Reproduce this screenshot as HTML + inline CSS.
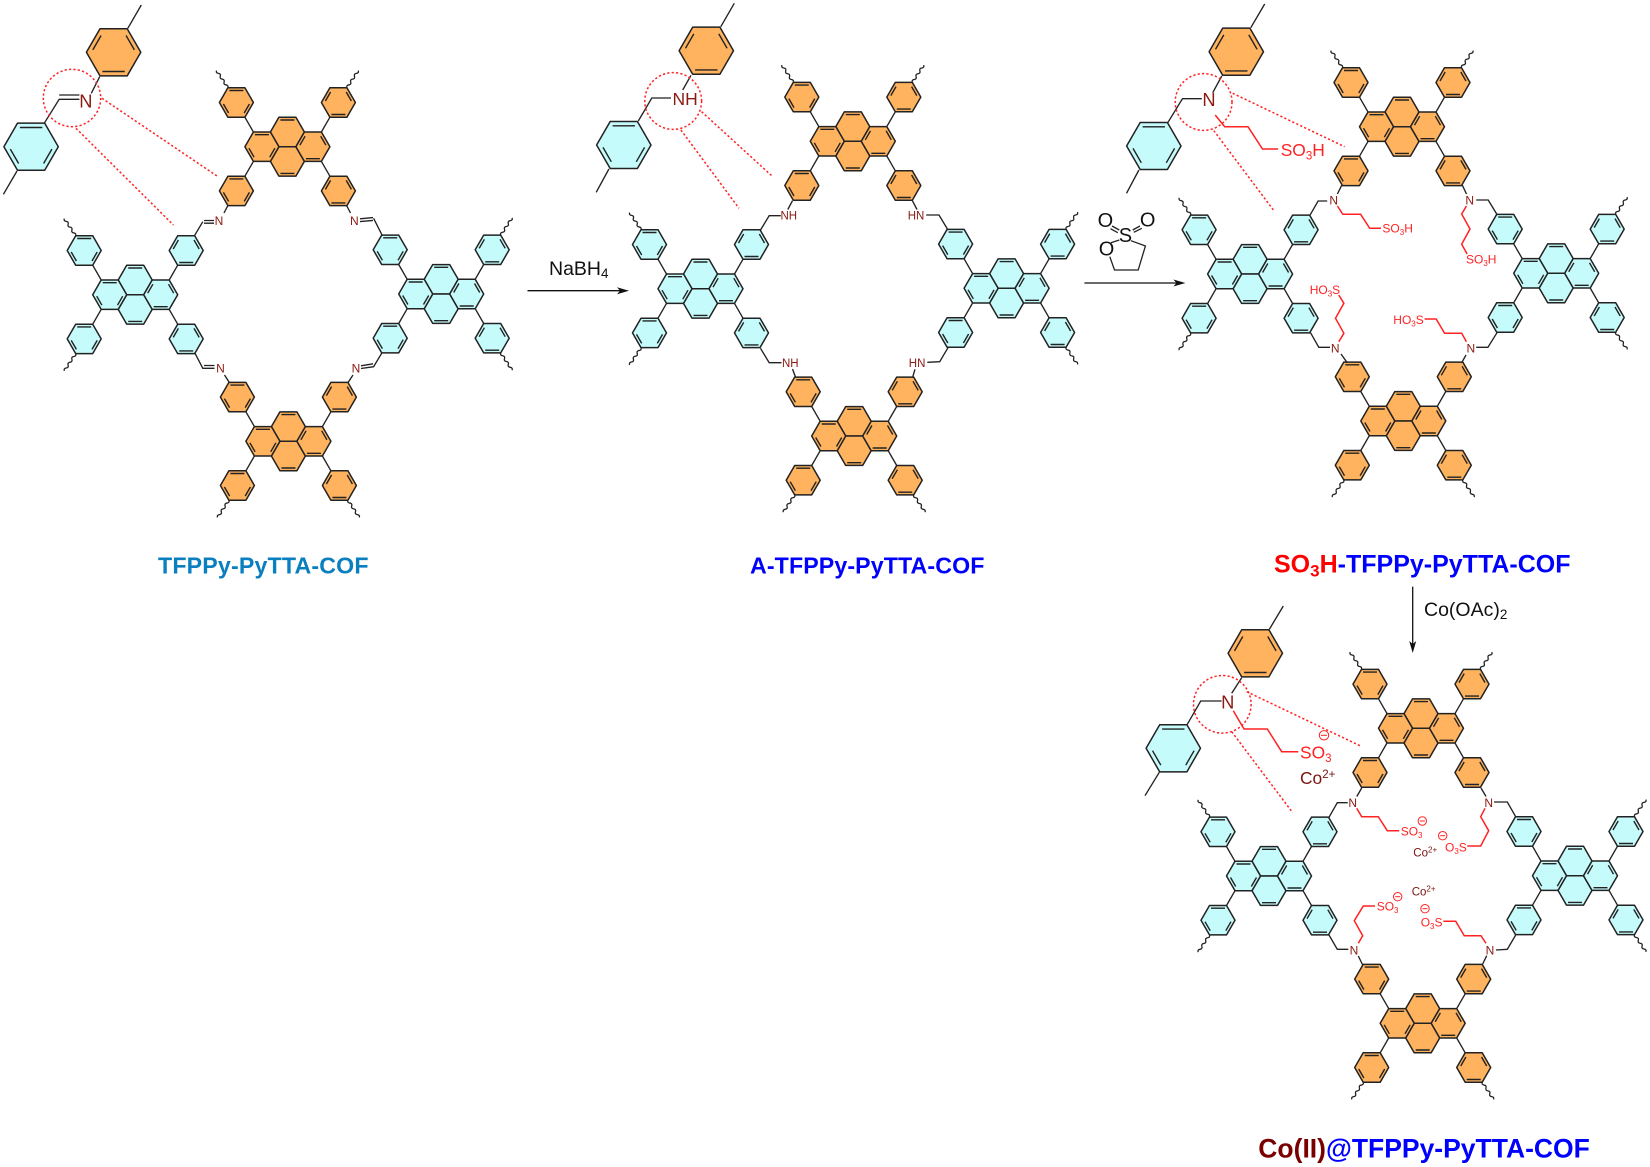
<!DOCTYPE html>
<html lang="en">
<head>
<meta charset="utf-8">
<title>COF synthesis scheme</title>
<style>
html,body{margin:0;padding:0;background:#fff;width:1650px;height:1167px;overflow:hidden}
svg{display:block}
text{font-family:"Liberation Sans",sans-serif}
.b{fill:none;stroke:#222;stroke-width:1.35}
.rb{fill:none;stroke:#f22;stroke-width:1.5}
.d{fill:none;stroke:#f22;stroke-width:1.5;stroke-dasharray:2.2 2.2}
.n{fill:#8a1a12;font-size:12px;text-anchor:middle}
.N{fill:#8a1a12;font-size:18.3px;text-anchor:middle}
.r{fill:#f22;font-size:12px}
.R{fill:#f22;font-size:17.4px}
.co{fill:#7a1510;font-size:11.5px}
.t{font-size:23.2px;font-weight:bold}
.k{fill:#111;font-size:19.5px}
.m{fill:none;stroke:#f22;stroke-width:1}
</style>
</head>
<body>
<svg xmlns="http://www.w3.org/2000/svg" width="1650" height="1167" viewBox="0 0 1650 1167">
<defs>
<g id="h"><path d="M-17,0L-8.5,-14.7H8.5L17,0L8.5,14.7H-8.5Z" stroke="#222" stroke-width="1.5" stroke-linejoin="round" vector-effect="non-scaling-stroke"/></g>
<g id="a"><use href="#h"/><path d="M-7,-12H7M-13,1.5L-7.8,10.5M13,1.5L7.8,10.5" fill="none" stroke="#222" stroke-width="1.4" vector-effect="non-scaling-stroke"/></g>
<g id="c"><use href="#h"/><path d="M-7,12H7M-13,-1.5L-7.8,-10.5M13,-1.5L7.8,-10.5" fill="none" stroke="#222" stroke-width="1.4" vector-effect="non-scaling-stroke"/></g>
<g id="u">
<path class="b" d="M-34,-14.7L-42.5,-29.5M34,-14.7L42.5,-29.5M-34,14.7L-42.5,29.5M34,14.7L42.5,29.5"/>
<use href="#a" transform="translate(-51,-44.2)"/>
<use href="#c" transform="translate(51,-44.2)"/>
<use href="#a" transform="translate(-51,44.2)"/>
<use href="#c" transform="translate(51,44.2)"/>
<use href="#h" transform="translate(0,-14.7)"/>
<use href="#h" transform="translate(0,14.7)"/>
<use href="#a" transform="translate(-25.5,0)"/>
<use href="#c" transform="translate(25.5,0)"/>
<path d="M-7,-26.7H7M-7,26.7H7" fill="none" stroke="#222" stroke-width="1.4"/>
</g>
<path id="wv" d="M0,0q.75,-2.54 -1.9,-2.88q-2.65,-.34 -1.9,-2.88q.75,-2.54 -1.9,-2.88q-2.65,-.34 -1.9,-2.88q.75,-2.54 -1.9,-2.88q-2.65,-.34 -1.9,-2.88" fill="none" stroke="#222" stroke-width="1.3"/>
<g id="wT"><use href="#wv" transform="translate(-59.5,-58.9)"/><use href="#wv" transform="translate(59.5,-58.9) scale(-1,1)"/></g>
<g id="wB"><use href="#wv" transform="translate(-59.5,58.9) scale(1,-1)"/><use href="#wv" transform="translate(59.5,58.9) scale(-1,-1)"/></g>
<g id="wL"><use href="#wv" transform="translate(-59.5,-58.9)"/><use href="#wv" transform="translate(-59.5,58.9) scale(1,-1)"/></g>
<g id="wR"><use href="#wv" transform="translate(59.5,-58.9) scale(-1,1)"/><use href="#wv" transform="translate(59.5,58.9) scale(-1,-1)"/></g>
<g id="O"><use href="#u" fill="#ffb35f"/></g>
<g id="C"><use href="#u" fill="#c6fbfb"/></g>
</defs>

<!-- COF 1 -->
<use href="#O" transform="translate(287.4,146.7)"/><use href="#wT" transform="translate(287.4,146.7)"/>
<use href="#C" transform="translate(135.2,294.7)"/><use href="#wL" transform="translate(135.2,294.7)"/>
<use href="#C" transform="translate(441.2,294)"/><use href="#wR" transform="translate(441.2,294)"/>
<use href="#O" transform="translate(288.4,441.3)"/><use href="#wB" transform="translate(288.4,441.3)"/>
<path class="b" d="M228,205.3L224,213M194.7,235.3L202.8,221.7M204,220.5H214M204,223.2H214
M346.5,205.3L350.5,213M382,235L373.6,218.3M360,218.8L373,217.6M360,221.6L373,220.4
M194.7,352.7L202.8,368.3H214.5M204,365.5H214.5M224.5,375L229.2,382.3
M382,352.7L373.6,366.7L361,368.5M373,363.8L361,365.8M353,375L348.2,382.3"/>
<text class="n" x="219" y="225">N</text>
<text class="n" x="354.3" y="225">N</text>
<text class="n" x="220.4" y="372.6">N</text>
<text class="n" x="356" y="372.6">N</text>
<use href="#c" fill="#ffb35f" transform="translate(113.6,52.3) scale(1.6)"/>
<use href="#a" fill="#c6fbfb" transform="translate(31.1,146.7) scale(1.6)"/>
<path class="b" d="M127.8,28.3L141.3,5M99.7,76.7L91.3,93.3M59.2,95H79.4M79.4,99.3H59.2L44.6,122.7M17,171L3.4,194.3"/>
<text class="N" x="85.9" y="107.4">N</text>
<circle class="d" cx="72" cy="98" r="28.7"/>
<path class="d" d="M102,98.3L218,176.7M76,128.3L173.4,225"/>
<text class="t" x="158" y="573.3" fill="#0a7fc0" textLength="210.5">TFPPy-PyTTA-COF</text>

<!-- Arrow 1 -->
<path d="M527.5,290.7H622" stroke="#111" stroke-width="1.3" fill="none"/>
<path d="M629,290.7L617,287.2L620,290.7L617,294.2Z" fill="#111"/>
<text class="k" x="549" y="275">NaBH<tspan dy="3" font-size="13.5">4</tspan></text>

<!-- COF 2 -->
<use href="#O" transform="translate(852.8,141.3)"/><use href="#wT" transform="translate(852.8,141.3)"/>
<use href="#C" transform="translate(700.5,288.7)"/><use href="#wL" transform="translate(700.5,288.7)"/>
<use href="#C" transform="translate(1006.6,288.3)"/><use href="#wR" transform="translate(1006.6,288.3)"/>
<use href="#O" transform="translate(854.2,436)"/><use href="#wB" transform="translate(854.2,436)"/>
<path class="b" d="M792.5,200.7L787.8,209.5M780.8,215.7H769.2L760.5,230
M912.4,200.7L917,209.5M926.2,215H939L948,230
M760.5,348.3L769.2,362.7H781.5M792.5,369L795.4,376.7
M948,347.7L939.7,361.7L927.3,362.3M915,369.3L912.8,376.7"/>
<text class="n" x="788.8" y="219.6" style="font-size:11.5px">NH</text>
<text class="n" x="916" y="219.6" style="font-size:11.5px">HN</text>
<text class="n" x="790.3" y="367" style="font-size:11.5px">NH</text>
<text class="n" x="917.1" y="367" style="font-size:11.5px">HN</text>
<use href="#c" fill="#ffb35f" transform="translate(706.3,50.7) scale(1.6)"/>
<use href="#a" fill="#c6fbfb" transform="translate(623.8,145) scale(1.6)"/>
<path class="b" d="M720.8,26.7L734.3,3.3M691,75.3L682.7,90M671,98H651.8L638.3,121M608.9,169L596.2,192.3"/>
<text class="N" x="685.2" y="105.2" style="font-size:17.5px">NH</text>
<circle class="d" cx="673.2" cy="101" r="28.4"/>
<path class="d" d="M701.6,111.7L772.8,176.7M680.9,130L739,208.3"/>
<text class="t" x="750" y="573.3" fill="#00f" textLength="234.4">A-TFPPy-PyTTA-COF</text>

<!-- Arrow 2 + sulfolane -->
<path d="M1084.4,283H1178" stroke="#111" stroke-width="1.3" fill="none"/>
<path d="M1185.4,283L1173.4,279.5L1176.4,283L1173.4,286.5Z" fill="#111"/>
<path d="M1130.9,240.7L1145.4,246L1138.2,270H1114.5L1109.8,256.7M1110.9,242.7L1119.3,240M1112,226L1119.3,230M1110.5,228.7L1117.8,232.7M1132.7,230L1140,226M1133.8,232.3L1141.8,228.3" fill="none" stroke="#222" stroke-width="1.3"/>
<text x="1125.4" y="242" fill="#111" font-size="20" text-anchor="middle">S</text>
<text x="1105.4" y="227" fill="#111" font-size="20" text-anchor="middle">O</text>
<text x="1147.6" y="226.3" fill="#111" font-size="20" text-anchor="middle">O</text>
<text x="1106.5" y="255.3" fill="#111" font-size="20" text-anchor="middle">O</text>

<!-- COF 3 -->
<use href="#O" transform="translate(1402,126.7)"/><use href="#wT" transform="translate(1402,126.7)"/>
<use href="#C" transform="translate(1250.1,274)"/><use href="#wL" transform="translate(1250.1,274)"/>
<use href="#C" transform="translate(1556.2,273.3)"/><use href="#wR" transform="translate(1556.2,273.3)"/>
<use href="#O" transform="translate(1403.3,421)"/><use href="#wB" transform="translate(1403.3,421)"/>
<path class="b" d="M1341.7,185.3L1337.4,194M1327.2,201H1318.1L1309.7,215.7
M1462.4,185.3L1466.5,194M1476.2,200H1488.2L1497.3,215
M1310.5,332.7L1318.8,347.3H1330M1341,354L1347.2,362.7
M1497,332.7L1487.9,347.3H1476.2M1466,355L1461.7,362.7"/>
<path class="rb" d="M1337.4,206L1342.8,214.3H1360.6L1369.7,228.3H1381
M1466.4,206L1461.7,214L1470,229L1461.7,244.3L1467.1,254
M1338.8,341.7L1343.9,333.3L1335.5,318.3L1343.9,303.3L1338.8,295
M1466.4,341.7L1461.7,333.3H1444.6L1436.2,319H1424.6"/>
<text class="n" x="1333.7" y="204.6">N</text>
<text class="n" x="1469.7" y="204.6">N</text>
<text class="n" x="1335.2" y="352.3">N</text>
<text class="n" x="1470.8" y="352.3">N</text>
<text class="r" x="1382.4" y="232.7">SO<tspan dy="2.5" font-size="8">3</tspan><tspan dy="-2.5">H</tspan></text>
<text class="r" x="1466" y="263.3">SO<tspan dy="2.5" font-size="8">3</tspan><tspan dy="-2.5">H</tspan></text>
<text class="r" x="1309.7" y="294">HO<tspan dy="2.5" font-size="8">3</tspan><tspan dy="-2.5">S</tspan></text>
<text class="r" x="1393.3" y="324">HO<tspan dy="2.5" font-size="8">3</tspan><tspan dy="-2.5">S</tspan></text>
<use href="#c" fill="#ffb35f" transform="translate(1236.3,51.7) scale(1.6)"/>
<use href="#a" fill="#c6fbfb" transform="translate(1153.8,146) scale(1.6)"/>
<path class="b" d="M1250.8,27.7L1264.7,4M1221.8,76L1212.7,92.7M1201.8,98.7H1182.5L1168,122.3M1138.9,170L1126.5,193.3"/>
<text class="N" x="1209" y="106">N</text>
<path class="rb" d="M1215.2,115L1224.7,126.7H1248L1262.5,149H1278.1"/>
<text class="R" x="1280.7" y="156">SO<tspan dy="3.5" font-size="11.5">3</tspan><tspan dy="-3.5">H</tspan></text>
<circle class="d" cx="1203.6" cy="102" r="28.4"/>
<path class="d" d="M1232.7,93.3L1344.6,146.7M1213.8,130.7L1273.4,210"/>
<text class="t" x="1274" y="572.7" style="font-size:25px"><tspan fill="#f00">SO<tspan dy="4" font-size="17">3</tspan><tspan dy="-4">H</tspan></tspan><tspan fill="#00f">-TFPPy-PyTTA-COF</tspan></text>

<!-- Arrow 3 -->
<path d="M1412.7,586.7V646" stroke="#111" stroke-width="1.3" fill="none"/>
<path d="M1412.7,653L1409.2,641L1412.7,644L1416.2,641Z" fill="#111"/>
<text class="k" x="1424" y="616">Co(OAc)<tspan dy="3" font-size="13.5">2</tspan></text>

<!-- COF 4 -->
<use href="#O" transform="translate(1421,728.3)"/><use href="#wT" transform="translate(1421,728.3)"/>
<use href="#C" transform="translate(1269,876)"/><use href="#wL" transform="translate(1269,876)"/>
<use href="#C" transform="translate(1575,875.7)"/><use href="#wR" transform="translate(1575,875.7)"/>
<use href="#O" transform="translate(1422.7,1023.3)"/><use href="#wB" transform="translate(1422.7,1023.3)"/>
<path class="b" d="M1361.7,788L1356.8,796.5M1347.7,802.7H1337.3L1329,817.3
M1481,788L1486,796.5M1494,802H1507.3L1515.7,816.7
M1329,935L1337.3,949.3H1348.3M1358.3,956L1362.7,965
M1515.7,935L1507.3,949.3L1496,950M1486.7,955.7L1482.7,964"/>
<path class="rb" d="M1356.7,808.3L1361.7,816.7H1378.3L1387.3,830.7H1399.3
M1485,808.3L1480.7,816.7L1488.7,830.7L1480.7,846H1467.3
M1358.3,943.3L1362.7,935.7L1354.3,920.7L1363.3,906H1375
M1486,943.3L1481,935.7H1464.3L1455.7,921.3H1443.3"/>
<text class="n" x="1352.7" y="807">N</text>
<text class="n" x="1488.7" y="807">N</text>
<text class="n" x="1354" y="954.3">N</text>
<text class="n" x="1490" y="954.3">N</text>
<text class="r" x="1400.7" y="835.3">SO<tspan dy="2.5" font-size="8">3</tspan></text>
<text class="r" x="1445" y="851.7">O<tspan dy="2.5" font-size="8">3</tspan><tspan dy="-2.5">S</tspan></text>
<text class="r" x="1376.7" y="910.7">SO<tspan dy="2.5" font-size="8">3</tspan></text>
<text class="r" x="1420.7" y="926.7">O<tspan dy="2.5" font-size="8">3</tspan><tspan dy="-2.5">S</tspan></text>
<g class="m">
<circle cx="1422.3" cy="821" r="4.2"/><path d="M1419.8,821H1424.8"/>
<circle cx="1442.7" cy="835.7" r="4.2"/><path d="M1440.2,835.7H1445.2"/>
<circle cx="1397.7" cy="896.7" r="4.2"/><path d="M1395.2,896.7H1400.2"/>
<circle cx="1425" cy="908.7" r="4.2"/><path d="M1422.5,908.7H1427.5"/>
<circle cx="1324" cy="735.3" r="4.7"/><path d="M1321,735.3H1327"/>
</g>
<text class="co" x="1413.3" y="856.7">Co<tspan dy="-4" font-size="8">2+</tspan></text>
<text class="co" x="1411.7" y="895.7">Co<tspan dy="-4" font-size="8">2+</tspan></text>
<use href="#c" fill="#ffb35f" transform="translate(1255.3,653.3) scale(1.6)"/>
<use href="#a" fill="#c6fbfb" transform="translate(1173.3,748.3) scale(1.6)"/>
<path class="b" d="M1269.3,629.3L1283.3,606M1241.7,677.7L1231.7,693.3M1221.7,701H1200.7L1187.3,724.3M1159.3,772.3L1145,795.7"/>
<text class="N" x="1227.7" y="708.7">N</text>
<path class="rb" d="M1233.3,710.7L1244,729H1267.3L1281.7,751.7H1298.3"/>
<text class="R" x="1300" y="758.3">SO<tspan dy="3.5" font-size="11.5">3</tspan></text>
<text x="1300" y="784" fill="#7a1510" font-size="17.4">Co<tspan dy="-6" font-size="11.5">2+</tspan></text>
<circle class="d" cx="1222.3" cy="704.3" r="28.8"/>
<path class="d" d="M1246.7,691.7L1360,745.7M1231.7,731.7L1292.7,812.7"/>
<text class="t" x="1258.3" y="1157.3" style="font-size:26.5px"><tspan fill="#7a0000">Co(II)</tspan><tspan fill="#00f">@TFPPy-PyTTA-COF</tspan></text>
</svg>
</body>
</html>
